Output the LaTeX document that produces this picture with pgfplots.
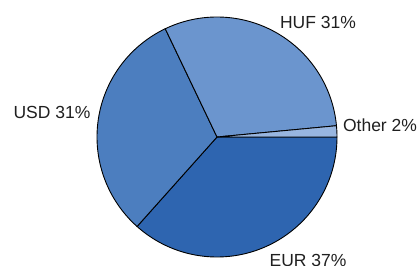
\documentclass[border=0pt]{standalone}
\usepackage{pgfplots}
\pgfplotsset{compat=1.18}
\usepackage{fontspec}
\setmainfont{Liberation Sans}
\definecolor{eurc}{RGB}{46,101,176}
\definecolor{usdc}{RGB}{76,126,191}
\definecolor{hufc}{RGB}{107,149,206}
\definecolor{othc}{RGB}{152,182,224}
% shares in percent
\def\sEUR{36.6}
\def\sUSD{31.3}
\def\sHUF{30.6}
\def\sOTH{1.5}
\pgfmathsetmacro\aA{-3.6*\sEUR}
\pgfmathsetmacro\aB{\aA-3.6*\sUSD}
\pgfmathsetmacro\aC{\aB-3.6*\sHUF}
\pgfmathsetmacro\aD{\aC-3.6*\sOTH}
\begin{document}
\begin{tikzpicture}
\begin{axis}[
  width=420pt, height=265pt, scale only axis,
  xmin=-217, xmax=203, ymin=-128, ymax=137,
  hide axis, clip=false,
]
\addplot[fill=eurc, draw=black, line width=0.9pt, data cs=polar, domain=\aA:0, samples=90] {120} -- (axis cs:0,0) -- cycle;
\addplot[fill=usdc, draw=black, line width=0.9pt, data cs=polar, domain=\aB:\aA, samples=90] {120} -- (axis cs:0,0) -- cycle;
\addplot[fill=hufc, draw=black, line width=0.9pt, data cs=polar, domain=\aC:\aB, samples=90] {120} -- (axis cs:0,0) -- cycle;
\addplot[fill=othc, draw=black, line width=0.9pt, data cs=polar, domain=\aD:\aC, samples=10] {120} -- (axis cs:0,0) -- cycle;
\begin{scope}[every node/.style={font=\fontsize{17.5}{20}\selectfont, text=black!88, inner sep=0pt}]
\node at (axis cs:101,115) {HUF 31\%};
\node at (axis cs:-165,25) {USD 31\%};
\node at (axis cs:163,12) {Other 2\%};
\node at (axis cs:91,-123) {EUR 37\%};
\end{scope}
\end{axis}
\pgfresetboundingbox
\path[use as bounding box] (current axis.south west) rectangle (current axis.north east);
\end{tikzpicture}
\end{document}
